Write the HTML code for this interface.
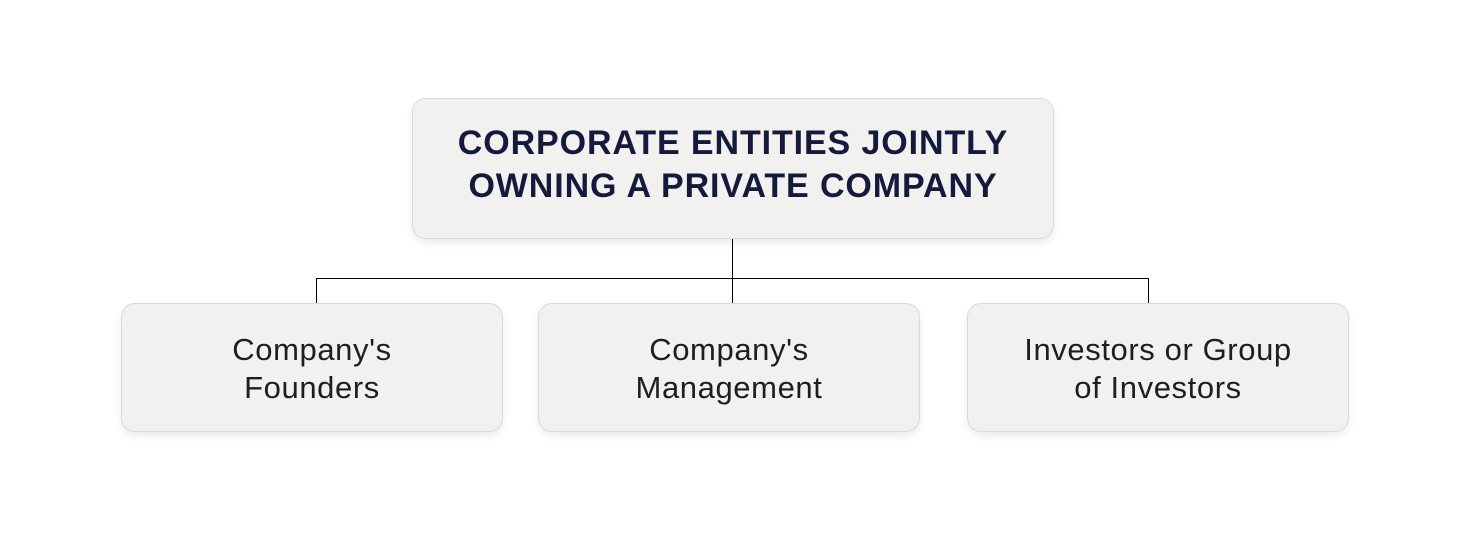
<!DOCTYPE html>
<html><head><style>
body{margin:0;width:1457px;height:541px;background:#fff;position:relative;font-family:"Liberation Sans",sans-serif;overflow:hidden}
.b{position:absolute;background:#f3f1f0;border:1px solid #dcdad8;border-radius:14px;box-shadow:0 4px 8px rgba(0,0,0,0.08);display:flex;align-items:center;justify-content:center;text-align:center;box-sizing:border-box}
.t{left:412px;top:98px;width:642px;height:141px;font-weight:bold;font-size:34px;line-height:43px;color:#141a3c;letter-spacing:0.9px;padding-bottom:8px}
.c{top:303px;width:382px;height:129px;font-size:31px;line-height:38px;color:#1e1e1e;letter-spacing:0.6px;padding-top:3px}
.l{position:absolute;background:#000}
</style></head><body>
<div class="l" style="left:732px;top:238px;width:1px;height:65px"></div>
<div class="l" style="left:316px;top:278px;width:833px;height:1px"></div>
<div class="l" style="left:316px;top:278px;width:1px;height:25px"></div>
<div class="l" style="left:1148px;top:278px;width:1px;height:25px"></div>
<div class="b t">CORPORATE ENTITIES JOINTLY<br>OWNING A PRIVATE COMPANY</div>
<div class="b c" style="left:121px">Company's<br>Founders</div>
<div class="b c" style="left:538px">Company's<br>Management</div>
<div class="b c" style="left:967px">Investors or Group<br>of Investors</div>
</body></html>
